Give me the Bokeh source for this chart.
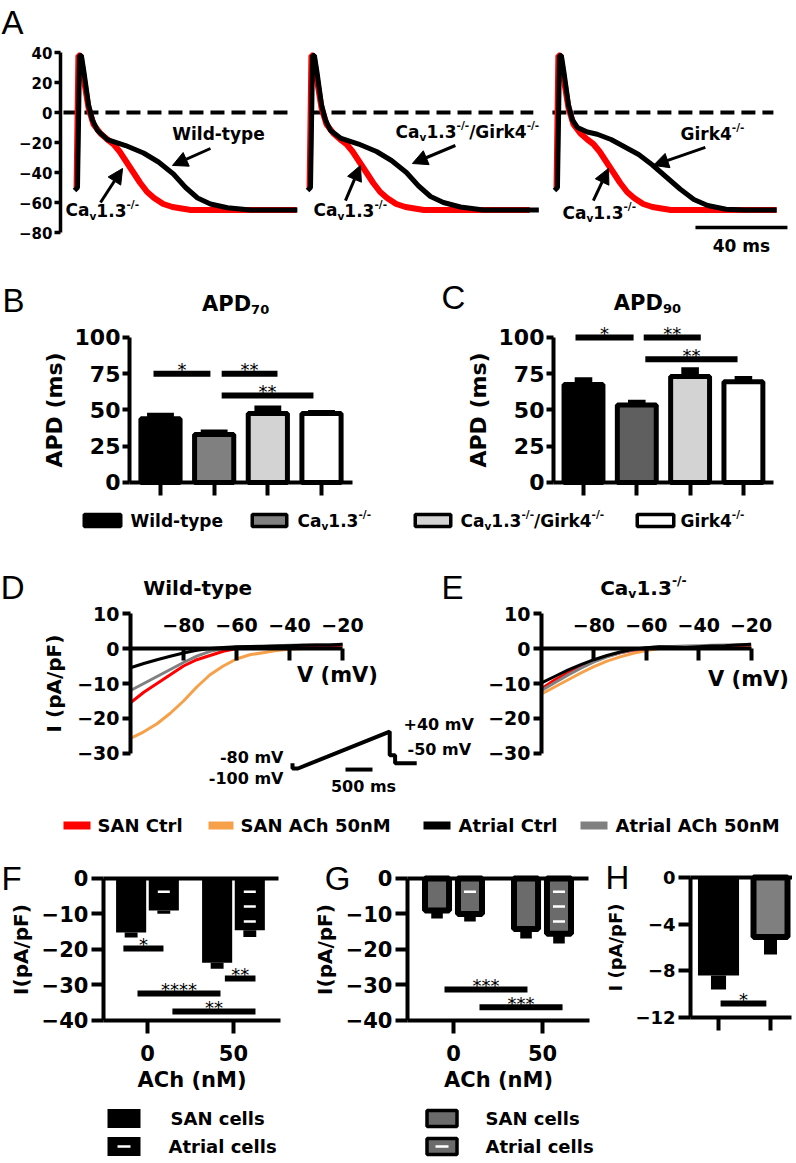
from bokeh.plotting import figure
from bokeh.models import Range1d, LinearAxis, FixedTicker, Arrow, NormalHead
from bokeh.layouts import column, row
from bokeh.embed import file_html
from bokeh.resources import INLINE
from bokeh.core.properties import value

FONT = "DejaVu Sans"
LFONT = "Liberation Sans"

# ====================== DATA ======================
# Panel A: action potentials (time in ms, potential in mV)
ap_t_wt = [-2.6, -1.3, -0.4, 0.4, 1.7, 3.5, 5.2, 7.4, 11.7, 19.6, 27.4, 33.9, 40.4, 45.7, 50.9, 56.5, 63.9, 73.9, 94.3]
ap_v_wt = [-52, -50, 38, 38, 25, 5, -5, -12, -18, -22, -27, -33, -41, -50, -57, -61, -63.5, -65, -65]
ap_t_cav = [-1.7, -0.9, 0, 1.7, 3.5, 5.7, 8.7, 11.7, 14.3, 17, 20, 23, 26, 29, 32, 36, 40, 48, 94]
ap_v_cav = [-50, 38, 38, 20, 3, -8, -14, -18, -21, -26, -33, -40, -47, -53, -57, -61, -63, -65, -65]
ap_t_dko = [-2.6, -1.3, -0.4, 0.4, 1.7, 3.5, 5.2, 7.4, 11.7, 19.6, 27.4, 33.9, 40.4, 45.7, 50.9, 56.5, 63.9, 73.9, 98]
ap_v_dko = [-52, -50, 38, 38, 25, 5, -5, -12, -17, -21, -26, -32, -40, -49, -56, -60, -63, -65, -65]
ap_t_girk = [-2.6, -1.3, -0.4, 0.4, 1.7, 3.5, 5.2, 7.4, 11.7, 16, 22, 28, 34, 40, 46, 52, 58, 64, 72, 80, 94]
ap_v_girk = [-52, -50, 38, 38, 25, 5, -5, -10, -13, -14.5, -18, -23, -28, -35, -43, -51, -58, -62, -64.5, -65, -65]
ap_ticks = [40, 20, 0, -20, -40, -60, -80]

# Panels B, C: action potential durations
genotypes = ["Wild-type", "Cav1.3-/-", "Cav1.3-/-/Girk4-/-", "Girk4-/-"]
geno_x = [1, 2, 3, 4]
apd70_mean = [44.0, 33.0, 47.5, 47.5]
apd70_sem = [4.0, 3.5, 5.5, 2.5]
apd90_mean = [67.5, 53.5, 73.0, 69.5]
apd90_sem = [5.0, 3.5, 6.5, 4.0]
apd_ticks = [0, 25, 50, 75, 100]
apd70_sig = [(0.87, 1.93, 75, "*"), (2.14, 3.18, 75, "**"), (2.14, 3.85, 60, "**")]
apd90_sig = [(0.85, 1.94, 100, "*"), (2.13, 3.20, 100, "**"), (2.16, 3.89, 85, "**")]

# Panels D, E: I-V relations (V in mV, I in pA/pF)
iv_v = [-100, -95, -90, -85, -80, -75, -70, -65, -60, -55, -50, -45, -40, -35, -30, -25, -20]
d_san_ctrl = [-15.5, -12.5, -10, -7.5, -5, -3.2, -2, -0.8, 0, 0.2, 0.3, 0.4, 0.5, 0.6, 0.7, 0.8, 1.0]
d_san_ach = [-25.7, -23.8, -21.5, -18.5, -15, -11, -7.5, -5, -3, -1.8, -1.2, -0.6, -0.2, 0, 0.2, 0.3, 0.5]
d_atr_ctrl = [-5.5, -4.3, -3.2, -2.2, -1.3, -0.5, 0, 0.3, 0.5, 0.6, 0.6, 0.7, 0.8, 0.9, 1.0, 1.0, 1.2]
d_atr_ach = [-12, -10, -8, -6, -4, -2.2, -0.8, 0, 0.4, 0.6, 0.7, 0.8, 0.9, 1.0, 1.1, 1.1, 1.2]
e_san_ctrl = [-11.5, -9, -7, -5, -3.5, -2.2, -1.2, -0.5, 0, 0.2, 0.3, 0.4, 0.5, 0.6, 0.8, 0.9, 1.0]
e_san_ach = [-13, -11, -9, -7, -5.2, -3.6, -2.4, -1.4, -0.6, 0, 0.3, 0.5, 0.6, 0.7, 0.8, 0.9, 1.0]
e_atr_ctrl = [-9.8, -8, -6.2, -4.6, -3.2, -2, -1, -0.2, 0.2, 0.5, 0.4, 0.3, 0.5, 0.7, 0.8, 1.0, 1.2]
e_atr_ach = [-12, -9.8, -7.6, -5.6, -3.8, -2.4, -1.2, -0.4, 0.2, 0.5, 0.6, 0.7, 0.8, 0.9, 1.0, 1.1, 1.2]
iv_yticks = [10, 0, -10, -20, -30]
iv_xticks = [-80, -60, -40, -20]
# voltage protocol (ms, mV)
proto_t = [0, 0, 100, 1800, 1800, 1900, 1900, 2300]
proto_mv = [-80, -100, -100, 40, -50, -50, -80, -80]

# Panels F, G, H: current amplitudes (pA/pF)
ach_x = [1, 2]
ach_labels = {1: "0", 2: "50"}
f_san_mean = [-15.2, -23.7]
f_san_sem = [1.4, 1.7]
f_atr_mean = [-9.0, -14.6]
f_atr_sem = [0.9, 1.9]
g_san_mean = [-9.0, -14.2]
g_san_sem = [2.3, 2.7]
g_atr_mean = [-10.0, -15.6]
g_atr_sem = [2.1, 2.7]
h_x = [1, 2]
h_mean = [-8.4, -5.1]
h_sem = [1.2, 1.5]
f_sig = [(0.72, 1.186, -19.7, "*"), (1.90, 2.256, -28.2, "**"), (0.884, 1.849, -32.4, "****"), (1.29, 2.256, -37.5, "**")]
g_sig = [(0.899, 1.831, -31.3, "***"), (1.292, 2.225, -36.3, "***")]
h_sig = [(1.04, 1.92, -10.8, "*")]
fg_ticks = [0, -10, -20, -30, -40]
h_ticks = [0, -4, -8, -12]

# ====================== HELPERS ======================
ADV = {" ": 0.348, "-": 0.415, ".": 0.381, "/": 0.365, "A": 0.774, "C": 0.734, "D": 0.830,
       "G": 0.821, "P": 0.733, "W": 1.102, "a": 0.675, "d": 0.716, "e": 0.678, "i": 0.343,
       "k": 0.665, "l": 0.343, "p": 0.716, "r": 0.493, "t": 0.478, "v": 0.652, "y": 0.652}
for dch in "0123456789":
    ADV[dch] = 0.696
SUBR = 0.62

CAV = [("Ca", "n"), ("v", "sub"), ("1.3", "n"), ("-/-", "sup")]
DKO = CAV + [("/Girk4", "n"), ("-/-", "sup")]
GIRK = [("Girk4", "n"), ("-/-", "sup")]


def base_fig(w, h, xr, yr):
    p = figure(width=w, height=h, x_range=Range1d(*xr), y_range=Range1d(*yr),
               output_backend="svg", toolbar_location=None,
               x_axis_location=None, y_axis_location=None,
               min_border_left=0, min_border_right=0,
               min_border_top=0, min_border_bottom=0)
    p.outline_line_color = None
    p.grid.visible = False
    p.background_fill_color = "white"
    p.border_fill_color = "white"
    return p


def style_axis(ax, fs, lw, tick_out, tick_in, standoff):
    ax.axis_line_width = lw
    ax.axis_line_color = "black"
    ax.major_tick_line_width = lw
    ax.major_tick_line_color = "black"
    ax.major_tick_out = tick_out
    ax.major_tick_in = tick_in
    ax.minor_tick_out = 0
    ax.minor_tick_in = 0
    ax.major_label_standoff = standoff
    ax.major_label_text_font = FONT
    ax.major_label_text_font_style = "bold"
    ax.major_label_text_font_size = f"{fs}px"
    ax.major_label_text_color = "black"


def add_axis(p, side, ticks, bounds, fs, fixed, lw=4, tick_out=7, tick_in=0, standoff=3,
             label=None, lfs=None, lstand=5, overrides=None):
    ax = LinearAxis(ticker=FixedTicker(ticks=ticks, minor_ticks=[]), bounds=bounds,
                    fixed_location=fixed)
    style_axis(ax, fs, lw, tick_out, tick_in, standoff)
    if overrides is not None:
        ax.major_label_overrides = overrides
    if label:
        ax.axis_label = label
        ax.axis_label_text_font = FONT
        ax.axis_label_text_font_style = "bold"
        ax.axis_label_text_font_size = f"{lfs}px"
        ax.axis_label_text_color = "black"
        ax.axis_label_standoff = lstand
    p.add_layout(ax, side)
    return ax


def rich(p, x, y, parts, size, align="left", **kw):
    widths = []
    for s, k in parts:
        fs = size * SUBR if k != "n" else size
        widths.append(sum(ADV.get(c, 0.65) for c in s) * fs)
    total = sum(widths)
    off = {"left": 0.0, "center": -total / 2, "right": -total}[align]
    for (s, k), w in zip(parts, widths):
        fs = size * SUBR if k != "n" else size
        dy = {"n": 0.0, "sub": 0.30 * size, "sup": -0.36 * size}[k]
        p.text(x=[x], y=[y], text=[s], x_offset=off, y_offset=dy,
               text_font=value(FONT), text_font_style="bold",
               text_font_size=f"{fs:.1f}px", text_align="left",
               text_baseline="middle", text_color="black", **kw)
        off += w


def plain(p, x, y, s, size, align="left", bold=True, **kw):
    p.text(x=[x], y=[y], text=[s], text_font=value(FONT),
           text_font_style="bold" if bold else "normal",
           text_font_size=f"{size}px", text_align=align,
           text_baseline="middle", text_color="black", **kw)


def letter(p, ch, x, y):
    p.text(x=[x], y=[y], text=[ch], text_font=value(LFONT), text_font_size="33px",
           text_align="center", text_baseline="middle", text_color="black")


def sig(p, bars, lw=6, fs=18):
    for x0, x1, y, s in bars:
        p.segment(x0=[x0], y0=[y], x1=[x1], y1=[y], line_width=lw, line_color="black")
        p.text(x=[(x0 + x1) / 2], y=[y], text=[s], y_offset=-4, text_font=value(FONT),
               text_font_size=f"{fs}px", text_align="center",
               text_baseline="alphabetic", text_color="black")


def arrow(p, xs, ys, xe, ye):
    p.add_layout(Arrow(end=NormalHead(size=15, fill_color="black", line_color="black", line_width=1),
                       x_start=xs, y_start=ys, x_end=xe, y_end=ye,
                       line_width=3, line_color="black"))


RED = "#ff0000"
ORANGE = "#f7a04a"
GRAY = "#808080"

# ====================== PANEL A ======================
A_H = 262
A_YR = (-100.0, 74.67)
zero_ext = [(-7.4, 90.0), (-1.3, 95.6), (-3.5, 92.6)]

pA1 = base_fig(303, A_H, (-34.78, 96.96), A_YR)
pA2 = base_fig(245, A_H, (-4.35, 102.2), A_YR)
pA3 = base_fig(244, A_H, (-5.2, 100.9), A_YR)
pA2.y_range = pA1.y_range
pA3.y_range = pA1.y_range
add_axis(pA1, "left", ap_ticks, (-80, 40), fs=15, fixed=-8.7, lw=3.5, tick_out=6, standoff=2)

for p, (bt, bv), ext in zip([pA1, pA2, pA3],
                            [(ap_t_wt, ap_v_wt), (ap_t_dko, ap_v_dko), (ap_t_girk, ap_v_girk)],
                            zero_ext):
    p.line(x=list(ext), y=[0, 0], line_dash="14 7", line_width=4, line_color="black")
    p.line(x=ap_t_cav, y=ap_v_cav, line_width=6, line_color=RED)
    p.line(x=bt, y=bv, line_width=5, line_color="black")

plain(pA1, 60, -14, "Wild-type", 17, align="center")
arrow(pA1, 56.5, -24, 40, -35.3)
rich(pA1, -6.5, -65.3, CAV, 17)
arrow(pA1, 8.7, -60, 18.3, -37.3)

rich(pA2, 35.7, -12.7, DKO, 17)
arrow(pA2, 61.7, -22, 43, -34)
rich(pA2, 0.0, -65.3, CAV, 17)
arrow(pA2, 13.9, -58.7, 20.4, -35.3)

rich(pA3, 52.2, -14, GIRK, 17)
arrow(pA3, 63.0, -23.3, 40.4, -35.3)
rich(pA3, 0.9, -66.7, CAV, 17)
arrow(pA3, 14.3, -58.7, 20.9, -37.3)
pA3.segment(x0=[58.7], y0=[-76.7], x1=[98.7], y1=[-76.7], line_width=3.5, line_color="black")
plain(pA3, 78.7, -88.7, "40 ms", 17, align="center")
letter(pA1, "A", -29.6, 60)

# ====================== PANELS B, C ======================
BC_H = 243
BC_YR = (-15.9, 151.7)
pB = base_fig(438, BC_H, (-1.981, 6.18), BC_YR)
pC = base_fig(354, BC_H, (-1.720, 4.921), BC_YR)
pC.y_range = pB.y_range
for p, means, sems, fills, sigs, b, ew in [
        (pB, apd70_mean, apd70_sem, ["black", "#808080", "#d3d3d3", "white"], apd70_sig, (0.422, 4.58), 0.5),
        (pC, apd90_mean, apd90_sem, ["black", "#5f5f5f", "#d3d3d3", "white"], apd90_sig, (0.437, 4.56), 0.33)]:
    p.vbar(x=geno_x, bottom=0, top=means, width=0.73, fill_color=fills,
           line_color="black", line_width=5)
    p.vbar(x=geno_x, bottom=means, top=[m + s for m, s in zip(means, sems)], width=ew,
           fill_color="black", line_color=None)
    add_axis(p, "left", apd_ticks, (0, 100), fs=22, fixed=b[0], lw=4, tick_out=7, standoff=2,
             label="APD (ms)", lfs=22, lstand=5)
    add_axis(p, "below", geno_x, b, fs=0, fixed=0, lw=4, tick_out=13, standoff=0,
             overrides={k: "" for k in geno_x})
    sig(p, sigs)
rich(pB, 2.4, 123.4, [("APD", "n"), ("70", "sub")], 21, align="center")
rich(pC, 2.2, 124.1, [("APD", "n"), ("90", "sub")], 21, align="center")
letter(pB, "B", -1.739, 125.5)
letter(pC, "C", -1.439, 127.6)

# legend B/C (page pixel frame)
legBC = base_fig(792, 35, (0, 792), (0, 35))
leg_box_x = [102, 269, 432.5, 655]
leg_box_w = [40, 38, 39, 40]
leg_fill = ["black", "#808080", "#d3d3d3", "white"]
legBC.rect(x=leg_box_x, y=[20] * 4, width=[w - 3.5 for w in leg_box_w], height=12,
           fill_color=leg_fill, line_color="black", line_width=3.5)
plain(legBC, 130, 20, genotypes[0], 17)
rich(legBC, 297, 20, CAV, 17)
rich(legBC, 460, 20, DKO, 17)
rich(legBC, 680, 20, GIRK, 17)

# ====================== PANELS D, E ======================
DE_H = 260
DE_YR = (-43.43, 30.86)
pD = base_fig(478, DE_H, (-149.06, 31.3), DE_YR)
pE = base_fig(314, DE_H, (-124.05, -4.2), DE_YR)
for p, traces in [(pD, [d_san_ach, d_san_ctrl, d_atr_ach, d_atr_ctrl]),
                  (pE, [e_san_ach, e_san_ctrl, e_atr_ach, e_atr_ctrl])]:
    add_axis(p, "left", iv_yticks, (-30, 10), fs=19, fixed=-100, lw=4, tick_out=8, standoff=3,
             label="I (pA/pF)" if p is pD else None, lfs=20, lstand=8)
    add_axis(p, "above", iv_xticks, (-100, -20), fs=19, fixed=0, lw=4, tick_out=0, tick_in=12,
             standoff=17)
    for tr, col in zip(traces, [ORANGE, RED, GRAY, "black"]):
        p.line(x=iv_v, y=tr, line_width=3, line_color=col)
plain(pD, -74.7, 17.4, "Wild-type", 20, align="center")
plain(pD, -21.9, -7.7, "V (mV)", 21, align="center")
plain(pE, -21.0, -8.6, "V (mV)", 21, align="center")
rich(pE, -61.1, 17.4, CAV, 20, align="center")
letter(pD, "D", -144.5, 17.4)
letter(pD, "E", 21.5, 17.4)

# voltage protocol inset in D
pD.extra_x_ranges = {"t": Range1d(-5407, 3444)}
pD.extra_y_ranges = {"mv": Range1d(-221.2, 763.6)}
pD.line(x=proto_t, y=proto_mv, line_width=4, line_color="black",
        x_range_name="t", y_range_name="mv")
pD.segment(x0=[981], y0=[-104], x1=[1481], y1=[-104], line_width=4, line_color="black",
           x_range_name="t", y_range_name="mv")
plain(pD, -167, -58.3, "-80 mV", 16, align="right", x_range_name="t", y_range_name="mv")
plain(pD, -167, -137.9, "-100 mV", 16, align="right", x_range_name="t", y_range_name="mv")
plain(pD, 2055, 66.7, "+40 mV", 16, x_range_name="t", y_range_name="mv")
plain(pD, 2130, -28, "-50 mV", 16, x_range_name="t", y_range_name="mv")
plain(pD, 1315, -168, "500 ms", 16, align="center", x_range_name="t", y_range_name="mv")

# legend D/E
legDE = base_fig(792, 50, (0, 792), (0, 50))
leg_line_x = [(63, 90), (208, 233), (423, 450), (580, 607)]
leg_line_c = [RED, ORANGE, "black", GRAY]
leg_line_t = ["SAN Ctrl", "SAN ACh 50nM", "Atrial Ctrl", "Atrial ACh 50nM"]
leg_text_x = [97, 240, 458, 615]
for (a, b), c, t, tx in zip(leg_line_x, leg_line_c, leg_line_t, leg_text_x):
    legDE.segment(x0=[a], y0=[25], x1=[b], y1=[25], line_width=8, line_color=c)
    plain(legDE, tx, 25, t, 18)

# ====================== PANELS F, G, H ======================
FG_H = 250
pF = base_fig(312, FG_H, (-0.709, 2.919), (-62.54, 7.887))
pG = base_fig(286, FG_H, (-0.584, 2.629), (-62.54, 7.887))
pH = base_fig(194, FG_H, (-1.308, 2.423), (-19.11, 2.31))


def dashes(p, xs, means, first=-3.7, step=4.2, margin=1.5):
    for x, m in zip(xs, means):
        y = first
        while y > m + margin:
            p.rect(x=[x], y=[y], width=12, height=2.5, width_units="screen",
                   height_units="screen", fill_color="white", line_color=None)
            y -= step


# F
xs_san = [g - 0.19 for g in ach_x]
xs_atr = [g + 0.19 for g in ach_x]
pF.vbar(x=xs_san, top=0, bottom=f_san_mean, width=0.35, fill_color="black", line_color=None)
pF.vbar(x=xs_atr, top=0, bottom=f_atr_mean, width=0.35, fill_color="black", line_color=None)
pF.vbar(x=xs_san, top=f_san_mean, bottom=[m - s for m, s in zip(f_san_mean, f_san_sem)],
        width=0.15, fill_color="black", line_color=None)
pF.vbar(x=xs_atr, top=f_atr_mean, bottom=[m - s for m, s in zip(f_atr_mean, f_atr_sem)],
        width=0.15, fill_color="black", line_color=None)
dashes(pF, xs_atr, f_atr_mean)
sig(pF, f_sig)

# G
GFILL = "#6b6b6b"
xs_san_g = [g - 0.185 for g in ach_x]
xs_atr_g = [g + 0.185 for g in ach_x]
pG.vbar(x=xs_san_g, top=g_san_mean, bottom=[m - s for m, s in zip(g_san_mean, g_san_sem)],
        width=0.13, fill_color="black", line_color=None)
pG.vbar(x=xs_atr_g, top=g_atr_mean, bottom=[m - s for m, s in zip(g_atr_mean, g_atr_sem)],
        width=0.13, fill_color="black", line_color=None)
pG.vbar(x=xs_san_g, top=0, bottom=g_san_mean, width=0.27, fill_color=GFILL,
        line_color="black", line_width=6)
pG.vbar(x=xs_atr_g, top=0, bottom=g_atr_mean, width=0.27, fill_color=GFILL,
        line_color="black", line_width=6)
dashes(pG, xs_atr_g, g_atr_mean, margin=2.2)
sig(pG, g_sig)

# H
pH.vbar(x=h_x, top=h_mean, bottom=[m - s for m, s in zip(h_mean, h_sem)],
        width=[0.29, 0.25], fill_color="black", line_color=None)
pH.vbar(x=[h_x[0]], top=0, bottom=[h_mean[0]], width=0.79, fill_color="black", line_color=None)
pH.vbar(x=[h_x[1]], top=0, bottom=[h_mean[1]], width=0.654, fill_color="#7f7f7f",
        line_color="black", line_width=6)
sig(pH, h_sig)

for p, b0, b1 in [(pF, 0.488, 2.55), (pG, 0.483, 2.53)]:
    add_axis(p, "left", fg_ticks, (-40, 0), fs=21, fixed=b0, lw=4, tick_out=12, standoff=3,
             label="I(pA/pF)", lfs=20, lstand=6)
    add_axis(p, "below", ach_x, (b0, b1), fs=21, fixed=-40, lw=4, tick_out=13, standoff=12,
             label="ACh (nM)", lfs=21, lstand=3, overrides=ach_labels)
    add_axis(p, "above", [], (b0, 2.52), fs=0, fixed=0, lw=4, tick_out=0, standoff=0)

add_axis(pH, "left", h_ticks, (-12, 0), fs=18, fixed=0.4615, lw=4, tick_out=12, standoff=3,
         label="I (pA/pF)", lfs=18, lstand=6)
add_axis(pH, "below", h_x, (0.4615, 2.4), fs=0, fixed=-12, lw=4, tick_out=13, standoff=0,
         overrides={k: "" for k in h_x})
add_axis(pH, "above", [], (0.4615, 2.423), fs=0, fixed=0, lw=4, tick_out=0, standoff=0)

letter(pF, "F", -0.58, 0)
letter(pG, "G", -0.303, 0)
letter(pH, "H", -0.942, 0)

# legend F/G
legFG = base_fig(792, 60, (0, 792), (0, 60))
legFG.rect(x=[123.5, 123.5], y=[42, 14], width=33, height=19, fill_color="black", line_color=None)
legFG.rect(x=[441.5, 441.5], y=[42, 14], width=30, height=16, fill_color=GFILL,
           line_color="black", line_width=3.5)
legFG.rect(x=[123.5, 441.5], y=[14, 14], width=13, height=2.5, fill_color="white", line_color=None)
plain(legFG, 170, 42, "SAN cells", 18)
plain(legFG, 168, 14, "Atrial cells", 18)
plain(legFG, 485, 42, "SAN cells", 18)
plain(legFG, 485, 14, "Atrial cells", 18)

layout = column(row(pA1, pA2, pA3), row(pB, pC), legBC, row(pD, pE), legDE,
                row(pF, pG, pH), legFG)
open("out.html", "w").write(file_html(layout, INLINE))
